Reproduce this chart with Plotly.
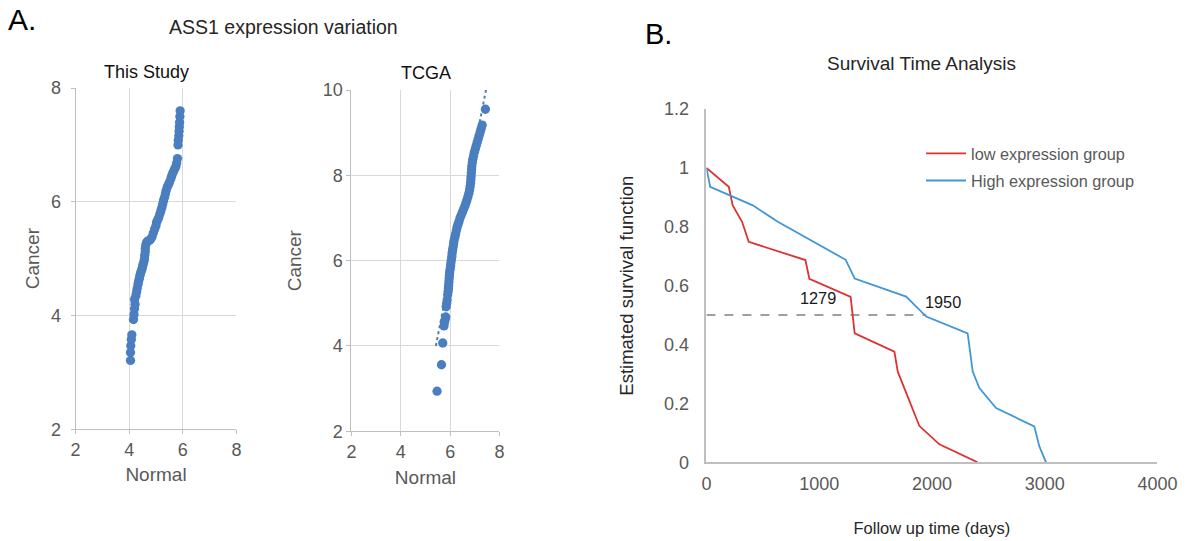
import plotly.graph_objects as go

# ---------------- data ----------------
study_normal = [4.05, 4.05, 4.06, 4.08, 4.10,
                4.16, 4.18, 4.20, 4.22, 4.20, 4.25, 4.28, 4.30, 4.33, 4.35,
                4.38, 4.40, 4.42, 4.45, 4.48, 4.50, 4.52, 4.55, 4.57, 4.58,
                4.60, 4.60, 4.62, 4.65, 4.70, 4.75, 4.80, 4.85, 4.90, 4.95,
                5.00, 5.02, 5.06, 5.10, 5.14, 5.18, 5.22, 5.25, 5.28, 5.32,
                5.35, 5.38, 5.42, 5.46, 5.50, 5.55, 5.58, 5.62, 5.66, 5.70,
                5.74, 5.77, 5.80, 5.82, 5.83, 5.85, 5.86, 5.87, 5.88, 5.89,
                5.90]
study_cancer = [3.21, 3.35, 3.47, 3.58, 3.66,
                3.93, 4.02, 4.12, 4.20, 4.28, 4.35, 4.42, 4.48, 4.55, 4.60,
                4.65, 4.70, 4.74, 4.78, 4.82, 4.86, 4.90, 4.95, 5.00, 5.06,
                5.12, 5.18, 5.24, 5.29, 5.31, 5.32, 5.34, 5.38, 5.45, 5.52,
                5.58, 5.64, 5.68, 5.72, 5.78, 5.84, 5.90, 5.96, 6.02, 6.08,
                6.14, 6.20, 6.26, 6.30, 6.34, 6.40, 6.45, 6.50, 6.54, 6.58,
                6.62, 6.68, 6.76, 7.00, 7.08, 7.16, 7.24, 7.32, 7.40, 7.50,
                7.60]

tcga_normal = [5.47, 5.65, 5.70, 5.75, 5.77, 5.80, 5.82, 5.84, 5.86, 5.88,
               5.90, 5.92, 5.93, 5.94, 5.95, 5.96, 5.97, 5.98, 6.00, 6.02,
               6.03, 6.05, 6.07, 6.08, 6.10, 6.12, 6.14, 6.16, 6.19, 6.22,
               6.25, 6.28, 6.32, 6.36, 6.40, 6.45, 6.50, 6.55, 6.60, 6.64,
               6.68, 6.72, 6.76, 6.79, 6.81, 6.83, 6.84, 6.85, 6.86, 6.87,
               6.88, 6.90, 6.92, 6.95, 6.98, 7.02, 7.06, 7.10, 7.14, 7.18,
               7.22, 7.26, 7.30, 7.43]
tcga_cancer = [2.94, 3.56, 4.07, 4.47, 4.55, 4.62, 4.68, 4.92, 5.00, 5.08,
               5.20, 5.28, 5.35, 5.42, 5.50, 5.58, 5.65, 5.72, 5.80, 5.88,
               5.95, 6.02, 6.10, 6.18, 6.25, 6.32, 6.40, 6.47, 6.55, 6.62,
               6.70, 6.78, 6.85, 6.92, 7.00, 7.07, 7.14, 7.21, 7.28, 7.35,
               7.42, 7.50, 7.58, 7.66, 7.74, 7.82, 7.90, 7.98, 8.06, 8.14,
               8.22, 8.30, 8.38, 8.46, 8.54, 8.62, 8.70, 8.78, 8.86, 8.94,
               9.02, 9.10, 9.18, 9.55]
tcga_trend_normal = [5.42, 7.47]
tcga_trend_cancer = [4.00, 10.05]

low_days = [0, 198, 233, 316, 375, 878, 913, 1279, 1315, 1667, 1697, 1888, 2066, 2405]
low_surv = [1.0, 0.936, 0.873, 0.817, 0.749, 0.687, 0.623, 0.562, 0.438, 0.376, 0.308, 0.124, 0.061, 0.0]
high_days = [0, 33, 411, 633, 1235, 1315, 1771, 1950, 2317, 2362, 2421, 2569, 2908, 2953, 3012]
high_surv = [1.0, 0.936, 0.873, 0.817, 0.688, 0.624, 0.563, 0.495, 0.438, 0.308, 0.252, 0.184, 0.122, 0.054, 0.0]
median_days = [0, 1950]
median_surv = [0.5, 0.5]
median_labels = ["1279", "1950"]
median_label_x = [993, 2096]
median_label_y = [0.558, 0.545]

assert len(study_normal) == len(study_cancer)
assert len(tcga_normal) == len(tcga_cancer)

# ---------------- layout helpers ----------------
# Measured mapping from figure pixels to the photographed window:
#   screen_x = SX * (x + OX),  screen_y = SY * (y + OY)
SX, OX = 0.9793, 5.6
SY, OY = 0.963, 9.35
W, H = 1202, 550


def PX(X):
    return X / SX - OX


def PY(Y):
    return Y / SY - OY


def dx(a, b):
    return [PX(a) / W, PX(b) / W]


def dy(top, bottom):
    return [1 - PY(bottom) / H, 1 - PY(top) / H]


FONT = "Liberation Sans, Arial, sans-serif"
GRAY = "#595959"
DARK = "#262626"
GRID = "#D9D9D9"
AXL = "#BFBFBF"
DOT = "#4A7EBF"
RED = "#DC3232"
BLUE = "#3F97D8"

fig = go.Figure()
fig.add_trace(go.Scatter(x=study_normal, y=study_cancer, mode="markers",
                         marker=dict(color=DOT, size=9.3), xaxis="x", yaxis="y", showlegend=False))
fig.add_trace(go.Scatter(x=tcga_trend_normal, y=tcga_trend_cancer, mode="lines",
                         line=dict(color=DOT, width=2, dash="dot"), xaxis="x2", yaxis="y2", showlegend=False))
fig.add_trace(go.Scatter(x=tcga_normal, y=tcga_cancer, mode="markers",
                         marker=dict(color=DOT, size=9.3), xaxis="x2", yaxis="y2", showlegend=False))
fig.add_trace(go.Scatter(x=median_days, y=median_surv, mode="lines",
                         line=dict(color="#808080", width=1.5, dash="dash"),
                         xaxis="x3", yaxis="y3", showlegend=False))
fig.add_trace(go.Scatter(x=low_days, y=low_surv, mode="lines", name="low expression group",
                         line=dict(color=RED, width=1.8), xaxis="x3", yaxis="y3", legendgroup="a"))
fig.add_trace(go.Scatter(x=high_days, y=high_surv, mode="lines", name="High expression group",
                         line=dict(color=BLUE, width=1.8), xaxis="x3", yaxis="y3", legendgroup="b"))

tickf = dict(family=FONT, size=18, color=GRAY)
scatter_axis = dict(showgrid=True, gridcolor=GRID, gridwidth=1, showline=True,
                    linecolor=AXL, linewidth=1, ticks="outside", ticklen=4,
                    tickcolor=AXL, zeroline=False, tickfont=tickf, dtick=2, fixedrange=True)
ttl_a = dict(family=FONT, size=19, color=GRAY)

fig.update_layout(
    width=W, height=H, autosize=False,
    margin=dict(l=0, r=0, t=0, b=0, pad=0),
    paper_bgcolor="white", plot_bgcolor="white",
    font=dict(family=FONT, color=DARK),
    xaxis=dict(scatter_axis, domain=dx(76, 237), range=[2, 8], anchor="y",
               title=dict(text="Normal", font=ttl_a, standoff=8.5)),
    yaxis=dict(scatter_axis, domain=dy(87, 428), range=[2, 8], anchor="x", ticklabelstandoff=6,
               title=dict(text="Cancer", font=ttl_a, standoff=6)),
    xaxis2=dict(scatter_axis, domain=dx(352, 500), range=[2, 8], anchor="y2",
                title=dict(text="Normal", font=ttl_a, standoff=9.5)),
    yaxis2=dict(scatter_axis, domain=dy(89, 430), range=[2, 10], anchor="x2",
                title=dict(text="Cancer", font=ttl_a, standoff=16)),
    xaxis3=dict(domain=dx(707, 1158), range=[0, 4000], dtick=1000, anchor="y3",
                showgrid=False, zeroline=False, showline=True, linecolor=AXL, linewidth=1.5,
                ticks="", tickfont=tickf, ticklabelstandoff=4, fixedrange=True,
                title=dict(text="Follow up time (days)", font=dict(family=FONT, size=16.5, color=DARK),
                           standoff=30)),
    yaxis3=dict(domain=dy(108, 461), range=[0, 1.2], dtick=0.2, anchor="x3",
                showgrid=False, zeroline=False, showline=True, linecolor=AXL, linewidth=1.5,
                ticks="", tickfont=tickf, ticklabelstandoff=12, fixedrange=True,
                title=dict(text="Estimated survival function", font=dict(family=FONT, size=18.5, color=DARK),
                           standoff=26)),
    legend=dict(x=935.5 / W, y=1 - 131 / H, xanchor="left", yanchor="top",
                font=dict(family=FONT, size=16.3, color=GRAY), tracegroupgap=3,
                itemwidth=40, bgcolor="rgba(0,0,0,0)"),
)

annots = [
    dict(text="A.", X=22, Y=18, font=dict(size=30, color="#000000")),
    dict(text="ASS1 expression variation", X=284, Y=26, font=dict(size=19.5, color=DARK)),
    dict(text="This Study", X=147, Y=71, font=dict(size=18, color="#111111")),
    dict(text="TCGA", X=427, Y=72, font=dict(size=18, color="#111111")),
    dict(text="B.", X=659, Y=33, font=dict(size=29, color="#000000")),
    dict(text="Survival Time Analysis", X=922.5, Y=62.5, font=dict(size=19, color=DARK)),
]
out = []
for a in annots:
    X, Y = a.pop("X"), a.pop("Y")
    a.update(x=PX(X) / W, y=1 - PY(Y) / H, xref="paper", yref="paper", showarrow=False,
             xanchor="center", yanchor="middle")
    a["font"]["family"] = FONT
    out.append(a)
for t, xv, yv in zip(median_labels, median_label_x, median_label_y):
    out.append(dict(text=t, x=xv, y=yv, xref="x3", yref="y3", showarrow=False,
                    xanchor="center", yanchor="middle", font=dict(family=FONT, size=16.3, color="#1a1a1a")))
fig.update_layout(annotations=out)

fig.write_html("out.html")
